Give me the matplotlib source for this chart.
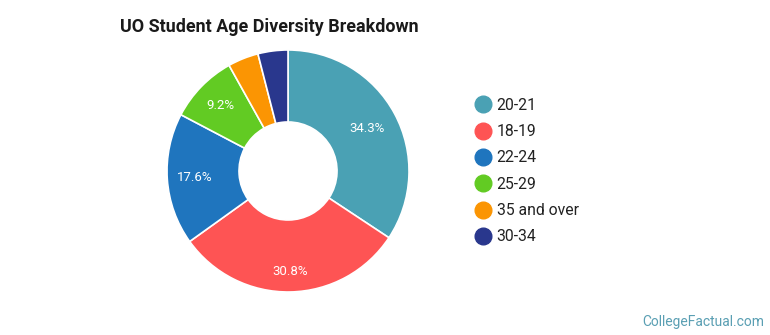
import matplotlib.pyplot as plt
from matplotlib.lines import Line2D
import numpy as np

plt.rcParams['font.family'] = ['Roboto', 'DejaVu Sans']

# data
labels = ['20-21', '18-19', '22-24', '25-29', '35 and over', '30-34']
shares = [34.3, 30.8, 17.6, 9.2, 4.1, 4.0]
colors = ['#4aa1b4', '#fe5454', '#1f75be', '#62cb23', '#fb9503', '#29378d']
shown = [True, True, True, True, False, False]

fig = plt.figure(figsize=(7.7, 3.35), dpi=100)
ax = fig.add_axes([0.2169, 0.1284, 0.3143, 0.7224])

wedges, texts = ax.pie(shares, colors=colors, startangle=90, counterclock=False,
                       wedgeprops=dict(width=0.595, edgecolor='white', linewidth=1.2))
ax.set_xlim(-1.0, 1.0)
ax.set_ylim(-1.0, 1.0)
ax.set_aspect('equal')

# percentage labels inside the ring
label_r = [0.745, 0.83, 0.77, 0.78, 0.78, 0.78]
for w, s, show, r in zip(wedges, shares, shown, label_r):
    mid = np.deg2rad((w.theta1 + w.theta2) / 2)
    if show:
        ax.text(r * np.cos(mid), r * np.sin(mid), '%.1f%%' % s, ha='center', va='center',
                color='white', fontsize=9.5)

fig.text(0.156, 0.918, 'UO Student Age Diversity Breakdown', fontsize=12.9,
         fontweight='bold', color='#1a1a1a', ha='left', va='center')

handles = [Line2D([], [], marker='o', linestyle='', markersize=12, markerfacecolor=c,
                  markeredgecolor=c) for c in colors]
fig.legend(handles, labels, loc='upper left', bbox_to_anchor=(0.596, 0.75), frameon=False,
           fontsize=11.3, labelspacing=0.72, handletextpad=0.2, handlelength=1.3,
           labelcolor='#222222')

fig.text(0.993, 0.04, 'CollegeFactual.com', fontsize=10, color='#5a9fb3', ha='right', va='center')

fig.savefig('out.png', dpi=100)
